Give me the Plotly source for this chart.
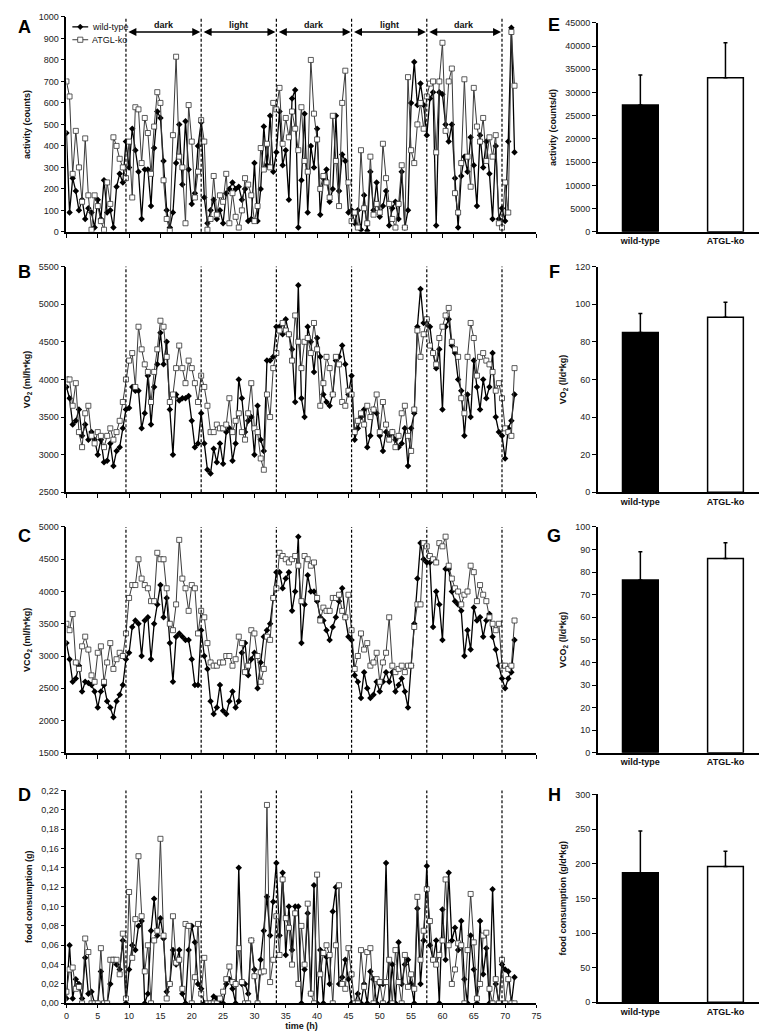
import plotly.graph_objects as go

# ---------------- data ----------------
time_h = [i * 0.5 for i in range(144)]  # sampling grid, hours 0 .. 71.5

activity_wt = [
    460, 90, 250, 190, 100, 150, 60, 110, 90, 20, 150, 60, 240, 90, 100, 20, 210, 270, 230, 420,
    300, 480, 380, 280, 60, 290, 290, 120, 390, 560, 530, 330, 100, 20, 90, 320, 500, 220, 515, 290, 130, 180, 400, 510,
    160, 40, 100, 150, 60, 100, 40, 180, 200, 230, 200, 210, 150, 200, 50, 60, 320, 50, 200, 490, 310, 540, 280, 370,
    560, 310, 380, 150, 620, 660, 20, 240, 550, 90, 400, 300, 480, 80, 250, 290, 140, 200, 540, 190, 360, 330, 90, 100,
    40, 100, 10, 170, 5, 280, 100, 230, 70, 120, 190, 30, 110, 140, 60, 280, 20, 100, 600, 790, 590, 690, 590, 450,
    620, 650, 30, 650, 640, 500, 420, 500, 250, 20, 260, 350, 280, 440, 310, 120, 450, 300, 420, 270, 60, 400, 60, 110,
    50, 420, 950, 370,
]
activity_ko = [
    700, 630, 270, 470, 300, 140, 435, 170, 10, 170, 120, 50, 10, 230, 130, 440, 400, 340, 300, 250,
    420, 160, 580, 570, 320, 530, 460, 270, 490, 650, 600, 240, 60, 5, 450, 815, 350, 300, 40, 590, 420, 160, 280, 520,
    420, 10, 60, 260, 80, 170, 140, 270, 40, 180, 70, 20, 100, 250, 220, 170, 50, 120, 390, 290, 410, 300, 600, 570,
    670, 410, 530, 440, 560, 480, 380, 580, 330, 280, 800, 550, 430, 200, 260, 230, 160, 540, 330, 120, 600, 750, 230, 50,
    90, 20, 380, 110, 40, 350, 80, 130, 90, 410, 250, 130, 60, 20, 130, 310, 20, 720, 380, 320, 500, 600, 480, 630,
    690, 700, 370, 700, 880, 470, 700, 760, 180, 90, 320, 710, 350, 210, 670, 490, 420, 530, 330, 440, 350, 450, 40, 20,
    230, 90, 930, 680,
]

vo2_wt = [
    3900, 3750, 3400, 3450, 3600, 3250, 3400, 3200, 3300, 3200, 3000, 3200, 2900, 2920, 3150, 2850, 3050, 3100, 3350, 3600,
    3620, 3900, 3850, 3850, 3350, 3550, 4050, 3400, 3900, 4200, 4620, 4200, 4500, 3600, 3000, 3800, 3720, 3750, 3750, 3780, 3450, 3100, 3150, 3550,
    3150, 2800, 2750, 3080, 2900, 3150, 2880, 3300, 3350, 2920, 3150, 4000, 3750, 3300, 3450, 3500, 3000, 3650, 3200, 3050, 4250, 4250, 4300, 4700,
    4700, 4600, 4800, 4600, 4400, 3700, 5250, 3750, 3500, 4700, 4500, 4100, 4550, 4300, 3800, 3700, 3650, 3800, 4250, 4300, 4450, 4200, 3800, 4050,
    3200, 3350, 3500, 3600, 3100, 3250, 3600, 3550, 3250, 3050, 3300, 3250, 3300, 3200, 3100, 3150, 3350, 2850, 3350, 3550, 4700, 5200, 4750, 4800,
    4700, 4350, 4150, 4400, 3600, 4700, 4800, 4450, 4350, 4000, 3850, 3250, 3800, 3500, 4250, 3900, 3600, 4000, 3750, 3900, 4350, 3500, 3300, 3250,
    2950, 3350, 3450, 3800,
]
vo2_ko = [
    4000, 4000, 3650, 3950, 3300, 3100, 3550, 3650, 3250, 3150, 3300, 3250, 3100, 3250, 3350, 3200, 3300, 3450, 3700, 4000,
    4250, 4350, 3900, 4700, 4400, 4200, 4100, 3700, 4100, 4400, 4780, 4700, 4300, 3700, 3800, 4150, 4450, 4150, 3950, 4250, 4150, 3950, 3700, 4050,
    3900, 3650, 3300, 3300, 3400, 3350, 3350, 3400, 3750, 3300, 3450, 3550, 3300, 3200, 3550, 3950, 3350, 3300, 2950, 2800, 3800, 3500, 4150, 4350,
    4650, 4750, 4650, 4600, 4250, 4850, 4500, 4150, 4500, 4550, 4350, 4750, 4400, 3650, 3950, 4300, 4150, 3800, 4300, 4200, 3700, 3650, 3850, 3800,
    3300, 3450, 3550, 3400, 3650, 3500, 3600, 3800, 3300, 3700, 3400, 3200, 3300, 3100, 3250, 3550, 3650, 3250, 3050, 3600, 4650, 4300, 4600, 4800,
    4450, 4350, 4200, 4550, 4700, 4850, 4950, 4500, 4400, 4300, 3750, 3550, 4300, 4750, 4550, 4050, 4300, 4350, 4250, 4200, 4100, 3850, 3950, 3750,
    3350, 3300, 3250, 4150,
]

vco2_wt = [
    3200, 2950, 2600, 2650, 2850, 2450, 2600, 2580, 2550, 2450, 2200, 2450, 2550, 2300, 2200, 2050, 2300, 2400, 2550, 2950,
    3050, 3450, 3550, 3500, 3000, 3550, 3600, 2950, 3500, 3800, 4100, 3600, 3900, 3200, 2600, 3300, 3350, 3300, 3250, 3250, 2950, 2550, 2550, 3400,
    3000, 2800, 2300, 2100, 2200, 2550, 2150, 2100, 2300, 2450, 2200, 2300, 3050, 3200, 2700, 2950, 3050, 2500, 2900, 3300, 3400, 3500, 3900, 4300,
    4300, 4050, 4200, 4300, 3700, 4000, 4850, 3200, 3800, 4250, 4000, 4000, 3850, 3600, 3550, 3400, 3250, 3450, 3600, 3850, 4050, 3600, 3300, 3250,
    2700, 2600, 2350, 2750, 2500, 2350, 2400, 2600, 2450, 2600, 2750, 2600, 2750, 2450, 2550, 2650, 2450, 2200, 2850, 3500, 4200, 4750, 4500, 4450,
    4450, 3450, 4000, 3800, 3250, 4350, 4350, 4000, 3850, 3800, 3700, 3000, 3400, 3100, 3750, 3550, 3600, 3300, 3550, 3650, 3300, 3100, 2850, 2650,
    2500, 2650, 2750, 3250,
]
vco2_ko = [
    3500, 3400, 3650, 2900, 2800, 3150, 3300, 3100, 2700, 2600, 3050, 3150, 2600, 2900, 3200, 2800, 2950, 3050, 3000, 3350,
    3900, 4100, 4100, 4500, 4200, 4100, 4050, 3850, 3850, 4600, 4500, 4500, 4050, 3500, 3400, 3800, 4800, 4200, 4050, 3700, 4100, 4050, 3350, 3700,
    3600, 3200, 2900, 2850, 2850, 2900, 2900, 3000, 3000, 2850, 2950, 3300, 3200, 2750, 2850, 3400, 3350, 3000, 2600, 2800, 3300, 3250, 3900, 4050,
    4600, 4550, 4500, 4450, 4500, 4550, 4400, 3850, 4550, 4500, 4400, 4450, 3900, 3550, 3750, 3700, 3700, 3900, 3900, 3950, 3700, 3600, 3950, 3400,
    2800, 3000, 3350, 3100, 3200, 2850, 2900, 3050, 2600, 2900, 3050, 3600, 2850, 2750, 2800, 2850, 2750, 2850, 2850, 3450, 3800, 3800, 4750, 4700,
    4550, 4500, 4450, 4750, 4700, 4850, 4400, 4200, 4050, 4000, 3800, 3950, 4000, 4400, 4300, 3850, 4100, 3950, 3850, 3600, 3500, 3400, 3500, 2850,
    2850, 2800, 2850, 3550,
]

food_wt = [
    0.005, 0.06, 0.005, 0.025, 0.02, 0.005, 0.047, 0.01, 0.012, 0.0, 0.0, 0.033, 0.0, 0.0, 0.02, 0.045, 0.04, 0.035, 0.065, 0.0,
    0.035, 0.06, 0.055, 0.08, 0.085, 0.0, 0.01, 0.075, 0.108, 0.07, 0.088, 0.067, 0.012, 0.02, 0.055, 0.04, 0.055, 0.01, 0.0, 0.055, 0.08, 0.063, 0.02, 0.015,
    0.0, 0.0, 0.0, 0.007, 0.005, 0.0, 0.0, 0.02, 0.025, 0.015, 0.0, 0.14, 0.02, 0.02, 0.01, 0.065, 0.035, 0.0, 0.045, 0.075, 0.11, 0.07, 0.105, 0.145,
    0.07, 0.135, 0.05, 0.1, 0.055, 0.1, 0.1, 0.0, 0.035, 0.093, 0.01, 0.122, 0.0, 0.055, 0.0, 0.048, 0.02, 0.095, 0.12, 0.02, 0.027, 0.045, 0.025, 0.0,
    0.0, 0.01, 0.0, 0.02, 0.0, 0.033, 0.025, 0.0, 0.02, 0.02, 0.145, 0.0, 0.04, 0.0, 0.063, 0.02, 0.04, 0.045, 0.02, 0.0, 0.098, 0.02, 0.065, 0.142,
    0.06, 0.045, 0.065, 0.0, 0.097, 0.045, 0.135, 0.065, 0.078, 0.055, 0.085, 0.025, 0.0, 0.07, 0.035, 0.0, 0.085, 0.03, 0.057, 0.0, 0.118, 0.02, 0.0, 0.04,
    0.035, 0.033, 0.0, 0.027,
]
food_ko = [
    0.012, 0.035, 0.037, 0.015, 0.017, 0.0, 0.067, 0.053, 0.0, 0.0, 0.0, 0.057, 0.0, 0.0, 0.045, 0.045, 0.045, 0.03, 0.072, 0.005,
    0.115, 0.047, 0.087, 0.152, 0.09, 0.033, 0.06, 0.0, 0.065, 0.075, 0.17, 0.07, 0.005, 0.02, 0.09, 0.042, 0.045, 0.015, 0.082, 0.08, 0.0, 0.027, 0.082, 0.01,
    0.047, 0.0, 0.0, 0.0, 0.0, 0.005, 0.012, 0.025, 0.038, 0.022, 0.02, 0.057, 0.022, 0.0, 0.0, 0.065, 0.028, 0.0, 0.032, 0.033, 0.205, 0.022, 0.045, 0.09,
    0.05, 0.128, 0.088, 0.078, 0.04, 0.093, 0.02, 0.08, 0.04, 0.103, 0.01, 0.0, 0.133, 0.03, 0.052, 0.06, 0.05, 0.0, 0.06, 0.122, 0.02, 0.015, 0.057, 0.03,
    0.0, 0.0, 0.055, 0.017, 0.053, 0.057, 0.0, 0.025, 0.022, 0.0, 0.022, 0.045, 0.0, 0.055, 0.022, 0.0, 0.05, 0.017, 0.03, 0.015, 0.11, 0.045, 0.075, 0.118,
    0.085, 0.045, 0.04, 0.05, 0.065, 0.128, 0.06, 0.02, 0.035, 0.062, 0.06, 0.0, 0.055, 0.113, 0.063, 0.005, 0.02, 0.07, 0.073, 0.015, 0.0, 0.025, 0.0, 0.045,
    0.0, 0.025, 0.0, 0.0,
]

groups = ["wild-type", "ATGL-ko"]
activity_day_mean = [27300, 33200]
activity_day_err = [6500, 7500]
vo2_day_mean = [85, 93]
vo2_day_err = [10, 8]
vco2_day_mean = [76.5, 86]
vco2_day_err = [12.5, 7]
food_day_mean = [187, 196]
food_day_err = [60, 22]

phase_bounds = [9.5, 21.5, 33.5, 45.5, 57.5, 69.5]
phase_labels = ["dark", "light", "dark", "light", "dark"]

food_ticks = [0.0, 0.02, 0.04, 0.06, 0.08, 0.10, 0.12, 0.14, 0.16, 0.18, 0.20, 0.22]

for s in (activity_wt, activity_ko, vo2_wt, vo2_ko, vco2_wt, vco2_ko, food_wt, food_ko):
    assert len(s) == len(time_h)

# ---------------- layout helpers ----------------
W, H = 767, 1034
FONT = "Liberation Sans, Arial, sans-serif"


def xd(a, b):
    return [a / W, b / W]


def yd(top, bottom):
    return [1 - bottom / H, 1 - top / H]


def px(p):
    return p / W


def py(p):
    return 1 - p / H


left_x = xd(56, 531)
right_x = xd(593, 765)
left_rows = [(4, 221), (256, 484), (519, 747), (785, 1000)]
right_rows = [(10, 221), (256, 484), (519, 747), (789, 999)]

tickfont = dict(family=FONT, size=9, color="#222")
titlefont = dict(family=FONT, size=9, color="#111")

WT_LINE = dict(color="black", width=1.3)
KO_LINE = dict(color="#3a3a3a", width=1)

fig = go.Figure()

series = [
    (activity_wt, activity_ko),
    (vo2_wt, vo2_ko),
    (vco2_wt, vco2_ko),
    (food_wt, food_ko),
]
for i, (wt, ko) in enumerate(series):
    n = i + 1
    xa = "x" if n == 1 else f"x{n}"
    ya = "y" if n == 1 else f"y{n}"
    fig.add_trace(go.Scatter(
        x=time_h, y=wt, xaxis=xa, yaxis=ya, mode="lines+markers",
        name="wild-type", showlegend=False,
        line=WT_LINE,
        marker=dict(symbol="diamond", size=5, color="black"),
    ))
    fig.add_trace(go.Scatter(
        x=time_h, y=ko, xaxis=xa, yaxis=ya, mode="lines+markers",
        name="ATGL-ko", showlegend=False,
        line=KO_LINE,
        marker=dict(symbol="square", size=5, color="white", line=dict(color="#333", width=0.8)),
    ))

bars = [
    (activity_day_mean, activity_day_err),
    (vo2_day_mean, vo2_day_err),
    (vco2_day_mean, vco2_day_err),
    (food_day_mean, food_day_err),
]
for i, (m, e) in enumerate(bars):
    n = i + 5
    fig.add_trace(go.Bar(
        x=groups, y=m, xaxis=f"x{n}", yaxis=f"y{n}", width=0.42, showlegend=False,
        marker=dict(color=["black", "white"], line=dict(color="black", width=1.5)),
        error_y=dict(type="data", symmetric=False, array=e, arrayminus=[0, 0],
                     color="black", thickness=1.5, width=2),
    ))

base_axis = dict(
    showline=True, linecolor="black", linewidth=1.5, showgrid=False, zeroline=False,
    ticks="outside", ticklen=4, tickwidth=1, tickcolor="black", tickfont=tickfont,
)

left_titles = [
    "<b>activity (counts)</b>",
    "<b>VO<sub>2</sub> (ml/h*kg)</b>",
    "<b>VCO<sub>2</sub> (ml/h*kg)</b>",
    "<b>food consumption (g)</b>",
]
left_ranges = [[0, 1000], [2500, 5500], [1500, 5000], [0, 0.22]]
left_dticks = [100, 500, 500, 0.02]

right_titles = [
    "<b>activity (counts/d)</b>",
    "<b>VO<sub>2</sub> (l/d*kg)</b>",
    "<b>VCO<sub>2</sub> (l/d*kg)</b>",
    "<b>food consumption (g/d*kg)</b>",
]
right_ranges = [[0, 45000], [0, 120], [0, 100], [0, 300]]
right_dticks = [5000, 20, 10, 50]

layout = dict(
    width=W, height=H, margin=dict(l=0, r=0, t=0, b=0),
    paper_bgcolor="white", plot_bgcolor="white",
    font=dict(family=FONT, size=9, color="#111"),
    showlegend=False,
)

for i in range(4):
    n = i + 1
    kx = "xaxis" if n == 1 else f"xaxis{n}"
    ky = "yaxis" if n == 1 else f"yaxis{n}"
    ya = "y" if n == 1 else f"y{n}"
    xa = "x" if n == 1 else f"x{n}"
    top, bot = left_rows[i]
    xax = dict(base_axis, domain=left_x, range=[0, 75], tick0=0, dtick=5,
               anchor=ya, showticklabels=(n == 4))
    if n == 4:
        xax["title"] = dict(text="<b>time (h)</b>", font=titlefont, standoff=1)
        xax["ticklen"] = 3
    layout[kx] = xax
    yax = dict(base_axis, domain=yd(top, bot), range=left_ranges[i], dtick=left_dticks[i],
               tick0=left_ranges[i][0], anchor=xa,
               title=dict(text=left_titles[i], font=titlefont, standoff=7))
    if n == 4:
        yax["tickmode"] = "array"
        yax["tickvals"] = food_ticks
        yax["ticktext"] = [f"{v:.2f}".replace(".", ",") for v in food_ticks]
    layout[ky] = yax

for i in range(4):
    n = i + 5
    top, bot = right_rows[i]
    layout[f"xaxis{n}"] = dict(base_axis, domain=right_x, anchor=f"y{n}", ticks="",
                               range=[-0.5, 1.5], type="category",
                               tickfont=dict(family=FONT, size=9, color="#111", weight="bold"))
    layout[f"yaxis{n}"] = dict(base_axis, domain=yd(top, bot), range=right_ranges[i],
                               dtick=right_dticks[i], tick0=0, anchor=f"x{n}", tickformat="d",
                               title=dict(text=right_titles[i], font=titlefont, standoff=7))

fig.update_layout(**layout)

# dashed light/dark boundaries
shapes = []
for i in range(4):
    n = i + 1
    xa = "x" if n == 1 else f"x{n}"
    ya = "y" if n == 1 else f"y{n}"
    for b in phase_bounds:
        shapes.append(dict(type="line", xref=xa, yref=f"{ya} domain", x0=b, x1=b, y0=0, y1=1,
                           line=dict(color="black", width=1.2, dash="3px,2px"), layer="above"))

# hand-drawn legend (inside panel A, top-left)
leg_rows = [("wild-type", 14, WT_LINE, "diamond"), ("ATGL-ko", 27, KO_LINE, "square")]
for label, ly, lline, sym in leg_rows:
    shapes.append(dict(type="line", xref="paper", yref="paper", x0=px(62), x1=px(78),
                       y0=py(ly), y1=py(ly), line=lline))
    cx, r = 70, 2.8
    if sym == "diamond":
        path = (f"M {px(cx - r)},{py(ly)} L {px(cx)},{py(ly - r)} L {px(cx + r)},{py(ly)} "
                f"L {px(cx)},{py(ly + r)} Z")
        shapes.append(dict(type="path", xref="paper", yref="paper", path=path,
                           fillcolor="black", line=dict(color="black", width=0.5)))
    else:
        shapes.append(dict(type="rect", xref="paper", yref="paper",
                           x0=px(cx - 2.6), x1=px(cx + 2.6), y0=py(ly + 2.6), y1=py(ly - 2.6),
                           fillcolor="white", line=dict(color="#333", width=0.8)))
fig.update_layout(shapes=shapes)

annotations = []
for label, ly, _, _ in leg_rows:
    annotations.append(dict(x=px(80), y=py(ly), xref="paper", yref="paper", text=label,
                            showarrow=False, xanchor="left", yanchor="middle",
                            font=dict(family=FONT, size=9, color="#111")))

# phase labels and double arrows in panel A
for j, lab in enumerate(phase_labels):
    a, b = phase_bounds[j], phase_bounds[j + 1]
    annotations.append(dict(x=(a + b) / 2, y=962, xref="x", yref="y", text=f"<b>{lab}</b>",
                            showarrow=False, font=dict(family=FONT, size=9, color="#111"),
                            yanchor="middle"))
    annotations.append(dict(x=b - 0.15, y=930, ax=a + 0.15, ay=930, xref="x", yref="y",
                            axref="x", ayref="y", text="", showarrow=True,
                            arrowhead=2, startarrowhead=2, arrowside="end+start",
                            arrowsize=1, startarrowsize=1, arrowwidth=1.6, arrowcolor="black",
                            standoff=0, startstandoff=0))

letters = [("A", 14, 14), ("B", 14, 262), ("C", 14, 528), ("D", 14, 790),
           ("E", 549, 12), ("F", 549, 262), ("G", 549, 528), ("H", 549, 790)]
for t, lx, ly in letters:
    annotations.append(dict(x=px(lx), y=py(ly), xref="paper", yref="paper", text=f"<b>{t}</b>",
                            showarrow=False, font=dict(family=FONT, size=18, color="black"),
                            xanchor="center", yanchor="middle"))
fig.update_layout(annotations=annotations)

fig.write_html("out.html")
